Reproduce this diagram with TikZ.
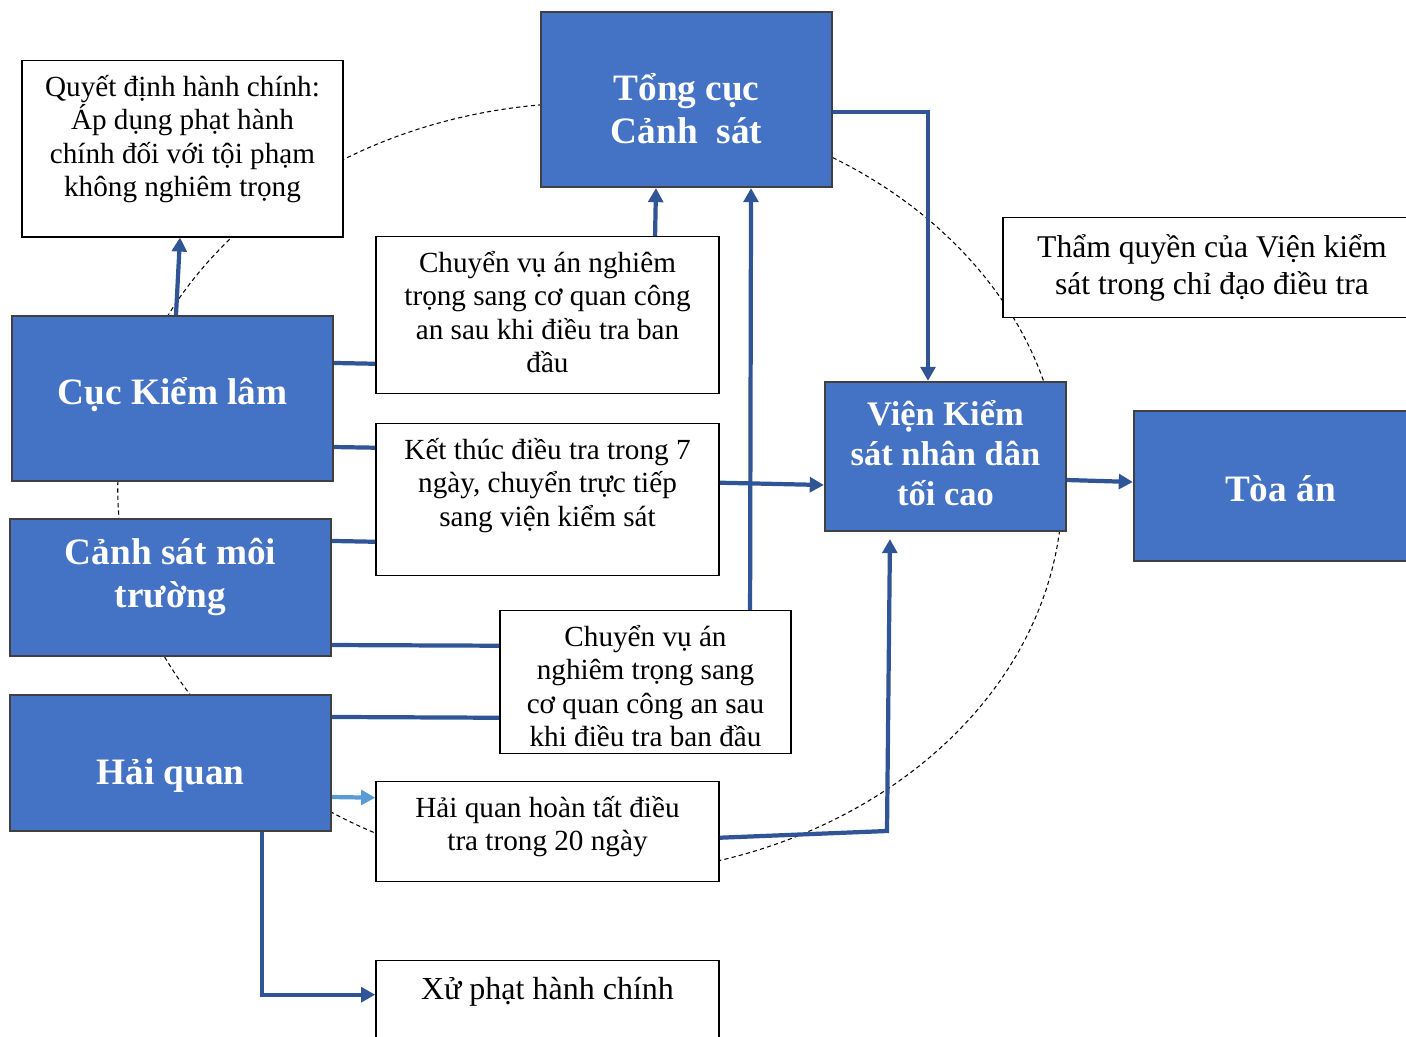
\documentclass[tikz,border=0pt]{standalone}
\usepackage{fontspec}
\setmainfont{Liberation Serif}
\usepackage{xcolor}
\usetikzlibrary{arrows.meta}
\definecolor{officeblue}{HTML}{4472C4}
\definecolor{linkblue}{HTML}{2F5597}
\definecolor{lightlink}{HTML}{5B9BD5}
\newcommand{\tightlines}{\lineskiplimit=-10pt\relax}
\newcommand{\notetext}[3]{\parbox[c][#2][t]{#1}{\centering\tightlines\rule{0pt}{1.07\baselineskip}#3}}
\newcommand{\agencytext}[3]{\rule{0pt}{#1}#3\rule[-#2]{0pt}{#2}}
\tikzstyle{agency} = [rectangle, draw=black!75, line width=0.6pt, fill=officeblue, text=white, align=center, inner ysep=0pt, font=\bfseries\fontsize{10.6}{12.2}\selectfont\tightlines]
\tikzstyle{note} = [rectangle, draw=black, fill=white, inner xsep=0.1cm, inner ysep=0pt, anchor=north, font=\fontsize{8.3}{9.5}\selectfont]
\tikzstyle{arrow} = [line width=1.2pt, draw=linkblue, -{Triangle[length=4pt, width=4.2pt]}]
\tikzstyle{link} = [line width=1.2pt, draw=linkblue]
\tikzstyle{ring} = [line width=0.3pt, dash pattern=on 1.2pt off 0.9pt]

\begin{document}
\begin{tikzpicture}[x=0.01cm, y=-0.01cm]
				\useasboundingbox (0,0) rectangle (1406,1037);
				
				% Dashed ring behind the boxes
				\draw [ring] (590,489) ellipse [x radius=4.72cm, y radius=3.86cm];
				
				% Agencies
				\node (tongcuc) [agency, minimum width=2.91cm, minimum height=1.75cm] at (686.5,99.5) {\agencytext{15.7pt}{3pt}{Tổng cục\\Cảnh\ \ sát}};
				\node (kiemlam) [agency, minimum width=3.21cm, minimum height=1.65cm] at (172.5,398.5) {\agencytext{11.5pt}{8.1pt}{Cục Kiểm lâm}};
				\node (moitruong) [agency, minimum width=3.21cm, minimum height=1.37cm] at (170.5,587.5) {\agencytext{11.5pt}{12.5pt}{Cảnh sát môi\\trường}};
				\node (haiquan) [agency, minimum width=3.21cm, minimum height=1.36cm] at (170.5,763) {\agencytext{15.2pt}{3pt}{Hải quan}};
				\node (vien) [agency, minimum width=2.41cm, minimum height=1.49cm, font=\bfseries\fontsize{9.8}{11.4}\selectfont\tightlines] at (945.5,456.5) {\agencytext{11.5pt}{6.2pt}{Viện Kiểm\\sát nhân dân\\tối cao}};
				\node (toaan) [agency, minimum width=2.93cm, minimum height=1.50cm] at (1280.5,486) {\agencytext{11.5pt}{2.7pt}{Tòa án}};
				
				% Notes
				\node (quyet) [note] at (182.5,60) {\notetext{3.01cm}{1.76cm}{Quyết định hành chính:\\Áp dụng phạt hành\\chính đối với tội phạm\\không nghiêm trọng}};
				\node (chuyenA) [note] at (547.5,236) {\notetext{3.23cm}{1.57cm}{Chuyển vụ án nghiêm\\trọng sang cơ quan công\\an sau khi điều tra ban\\đầu}};
				\node (ketthuc) [note] at (547.5,423) {\notetext{3.23cm}{1.52cm}{Kết thúc điều tra trong 7\\ngày, chuyển trực tiếp\\sang viện kiểm sát}};
				\node (thamquyen) [note, font=\fontsize{9}{10.5}\selectfont] at (1212,217) {\notetext{3.98cm}{1.00cm}{Thẩm quyền của Viện kiểm\\sát trong chỉ đạo điều tra}};
				\node (chuyenB) [note] at (645.5,610) {\notetext{2.71cm}{1.43cm}{Chuyển vụ án\\nghiêm trọng sang\\cơ quan công an sau\\khi điều tra ban đầu}};
				\node (haiquanHT) [note] at (547.5,781) {\notetext{3.23cm}{1.00cm}{Hải quan hoàn tất điều\\tra trong 20 ngày}};
				\node (xuphat) [note, font=\fontsize{9.1}{10.4}\selectfont] at (547.5,960) {\notetext{3.23cm}{1.00cm}{Xử phạt hành chính}};
				
				% Links from agencies to notes
				\draw [link] ([yshift=0.355cm]kiemlam.east) -- ([yshift=-0.485cm]chuyenA.west);
				\draw [link] ([yshift=-0.485cm]kiemlam.east) -- ([yshift=0.52cm]ketthuc.west);
				\draw [link] ([yshift=0.465cm]moitruong.east) -- ([yshift=-0.42cm]ketthuc.west);
				\draw [link] ([yshift=-0.575cm]moitruong.east) -- ([yshift=0.365cm]chuyenB.west);
				\draw [link] ([yshift=0.46cm]haiquan.east) -- ([yshift=-0.355cm]chuyenB.west);
				\draw [arrow, draw=lightlink] ([yshift=-0.34cm]haiquan.east) -- ([yshift=0.34cm]haiquanHT.west);
				\draw [arrow] ([xshift=0.915cm]haiquan.south) |- ([yshift=0.16cm]xuphat.west);
				\draw [arrow] ([xshift=0.035cm]kiemlam.north) -- ([xshift=-0.025cm]quyet.south);
				
				% Arrows to Tong cuc and Vien
				\draw [arrow] ([xshift=1.075cm]chuyenA.north) -- ([xshift=-0.305cm]tongcuc.south);
				\draw [arrow] ([xshift=1.045cm]chuyenB.north) -- ([xshift=0.645cm]tongcuc.south);
				\draw [arrow] ([yshift=-0.125cm]tongcuc.east) -| ([xshift=-0.175cm]vien.north);
				\draw [arrow] ([yshift=0.17cm]ketthuc.east) -- ([yshift=-0.285cm]vien.west);
				\draw [arrow] ([yshift=-0.06cm]haiquanHT.east) -- (887,831) -- ([xshift=-0.555cm, yshift=-0.07cm]vien.south);
				\draw [arrow] ([yshift=-0.235cm]vien.east) -- ([yshift=0.04cm]toaan.west);
				
			\end{tikzpicture}
\end{document}
